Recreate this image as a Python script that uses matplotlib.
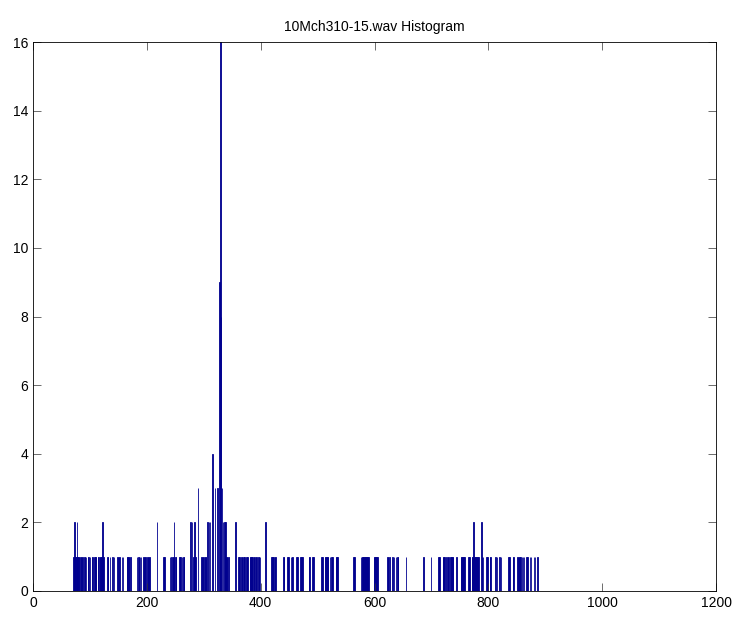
import matplotlib
matplotlib.use('Agg')
import matplotlib.pyplot as plt
import numpy as np

plt.rcParams['font.family'] = ['Liberation Sans', 'DejaVu Sans']

# bin positions grouped by count
bins_1 = [71, 72, 74, 75, 76, 78, 80, 81, 83, 84, 86, 87, 90, 91, 93, 97, 98, 100,
          104, 105, 108, 110, 111, 114, 115, 118, 119, 120, 121, 123, 124, 131, 132,
          135, 140, 142, 148, 149, 151, 152, 156, 158, 165, 166, 168, 169, 171,
          183, 185, 186, 188, 190, 194, 195, 197, 198, 201, 202, 204, 205,
          229, 231, 241, 243, 246, 247, 250, 251, 257, 259, 262, 264, 265,
          282, 283, 285, 286, 296, 297, 299, 300, 302, 303, 304,
          340, 341, 343, 361, 363, 366, 367, 370, 372, 375, 377, 381, 382, 384,
          386, 388, 389, 392, 393, 396, 397, 399, 419, 421, 423, 425, 426,
          440, 441, 447, 449, 453, 455, 456, 463, 465, 470, 472, 473, 485, 486,
          491, 493, 507, 509, 513, 514, 516, 517, 518, 522, 524, 526, 532, 533, 535,
          563, 565, 576, 578, 579, 580, 581, 582, 583, 584, 585, 586, 587, 588, 589,
          599, 600, 601, 602, 603, 604, 605, 623, 624, 626, 632, 634, 638, 640, 641,
          655, 686, 699, 712, 714, 720, 721, 723, 727, 729, 730, 734, 735, 737, 738,
          744, 752, 753, 755, 756, 758, 765, 767, 771, 772, 776, 777, 779, 781, 783,
          789, 791, 797, 799, 803, 804, 813, 815, 820, 822, 835, 837, 843, 844,
          851, 852, 854, 855, 857, 859, 861, 863, 867, 869, 873, 875, 880, 882, 886]
bins_2 = [73, 77, 122, 218, 248, 277, 279, 284, 307, 309, 311, 334, 336, 338, 356, 408, 774, 788]
bins_3 = [290, 320, 324, 332]
bins_4 = [315]
bins_8 = [330]
bins_9 = [328]
bins_16 = [329]

groups = [(bins_1, 1), (bins_2, 2), (bins_3, 3), (bins_4, 4),
          (bins_8, 8), (bins_9, 9), (bins_16, 16)]
centers = np.concatenate([np.array(b, dtype=float) for b, c in groups])
counts = np.concatenate([np.full(len(b), c) for b, c in groups])

fig = plt.figure(figsize=(7.38, 6.21), dpi=100)
ax = fig.add_axes([33 / 738, 30 / 621, 683 / 738, 549 / 621])

bar_color = '#00008F'
ax.bar(centers, counts, width=1.0, color=bar_color, edgecolor=bar_color, linewidth=0.6)

ax.set_xlim(0, 1200)
ax.set_ylim(0, 16)
ax.set_xticks(np.arange(0, 1201, 200))
ax.set_yticks(np.arange(0, 17, 2))
ax.tick_params(direction='in', top=True, right=True, length=6, width=0.5,
               labelsize=10, color='#333333')
for s in ax.spines.values():
    s.set_linewidth(0.6)
    s.set_color('black')

ax.set_title('10Mch310-15.wav Histogram', fontsize=10, pad=8)

fig.savefig('out.png', dpi=100, facecolor='white')
